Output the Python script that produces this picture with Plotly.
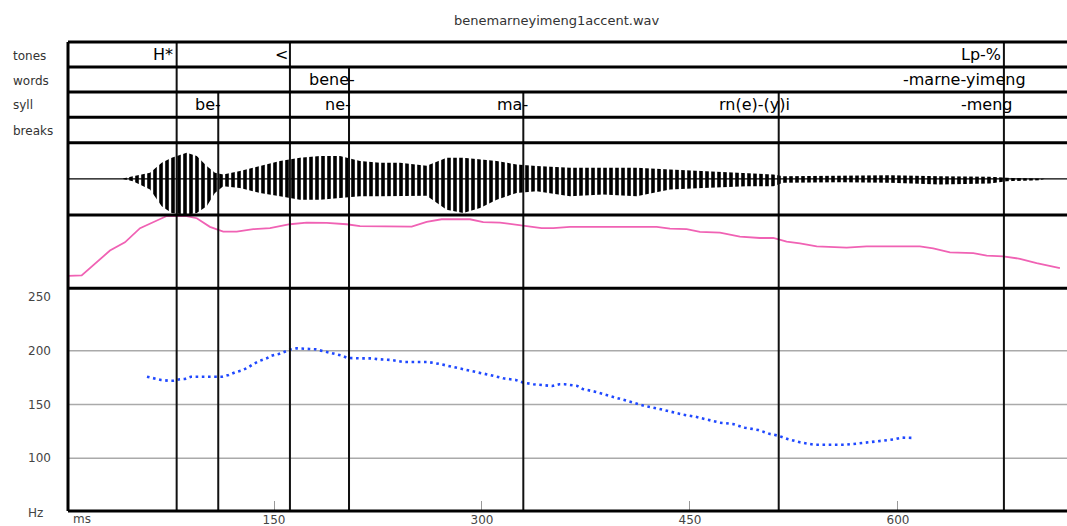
import plotly.graph_objects as go

# ---------------- data ----------------
title_text = "benemarneyimeng1accent.wav"
tier_names = ["tones", "words", "syll", "breaks"]

tones_labels = ["H*", "<", "Lp-%"]
tones_times = [79.8, 161.5, 676.4]
tones_text_end = [78.6, 161.5, 675.9]

words_labels = ["bene-", "-marne-yimeng"]
words_times = [204.1, None]
words_text_end = [209.9, 693.9]

syll_labels = ["be-", "ne-", "ma-", "rn(e)-(y)i", "-meng"]
syll_times = [109.8, 204.1, 329.8, 514.0, None]
syll_text_end = [113.0, 207.2, 334.6, 523.3, 684.4]

# waveform envelope (relative amplitude)
wave_ms = [40.2, 48.3, 60.6, 69.0, 76.2, 87.0, 94.3, 101.5, 107.4, 113.4,
           125.5, 139.9, 154.3, 168.7, 183.2, 197.6, 212.0, 226.4, 240.9, 260.1,
           274.5, 286.5, 298.6, 310.6, 325.0, 339.4, 363.5, 387.5, 411.5, 435.6,
           459.6, 490.9, 510.1, 517.3, 558.2, 594.2, 630.3, 666.3, 678.4, 702.4, 706.0]
wave_upper = [0, .075, .167, .444, .583, .722, .631, .353, .167, .119,
              .214, .353, .492, .583, .631, .631, .492, .444, .444, .36,
              .583, .583, .536, .492, .397, .353, .306, .306, .306, .258,
              .214, .167, .119, .075, .092, .103, .075, .056, .028, .01, 0]
wave_lower = [0, -.064, -.297, -.758, -.944, -.992, -.944, -.758, -.389, -.203,
              -.25, -.389, -.481, -.575, -.575, -.528, -.481, -.481, -.481, -.47,
              -.853, -.944, -.806, -.575, -.389, -.342, -.481, -.436, -.481, -.297,
              -.25, -.203, -.203, -.111, -.092, -.111, -.158, -.131, -.064, -.04, 0]

# intensity contour (dB)
int_ms = [1.6, 1.7, 11.3, 31.7, 42.5, 53.4, 72.6, 87.0, 94.3, 103.8,
          113.4, 123.1, 135.1, 147.1, 161.5, 173.6, 188.0, 202.4, 212.0, 249.3,
          260.1, 270.9, 291.3, 300.9, 313.0, 329.8, 343.0, 351.4, 363.5, 380.3,
          426.0, 435.6, 447.6, 457.2, 471.6, 486.0, 500.5, 510.1, 519.7, 529.3,
          541.4, 563.0, 577.4, 615.8, 625.4, 637.5, 654.3, 664.0, 675.9, 688.0,
          700.0, 716.8]
int_db = [30.5, 38.4, 38.8, 55.7, 61.3, 71.0, 79.3, 79.3, 77.8, 71.9,
          68.7, 68.7, 70.3, 71.0, 73.7, 74.8, 74.6, 73.7, 72.4, 72.1,
          75.3, 77.1, 77.1, 75.1, 74.8, 72.6, 71.0, 71.0, 71.9, 71.9,
          71.9, 70.7, 70.3, 68.5, 68.0, 65.3, 64.3, 64.3, 61.8, 60.6,
          58.6, 57.7, 58.6, 58.6, 57.2, 54.5, 53.9, 52.3, 51.8, 50.1,
          47.1, 43.7]

# pitch track (Hz)
pitch_ms = [58.4, 63.7, 68.5, 73.8, 77.4, 82.2, 85.8, 90.1, 95.0, 99.5,
            103.8, 108.2, 112.5, 117.3, 121.9, 126.2, 130.7, 135.1, 139.4, 144.7,
            148.3, 153.4, 157.9, 162.3, 166.4, 170.7, 175.5, 179.8, 184.6, 189.2,
            194.0, 198.1, 203.1, 207.2, 212.0, 220.4, 225.2, 234.4, 243.3, 251.7,
            260.9, 269.7, 279.3, 288.5, 296.6, 305.8, 315.4, 324.3, 329.8, 337.0,
            346.6, 350.7, 355.7, 359.8, 368.7, 372.6, 381.5, 390.3, 399.5, 408.6,
            417.5, 427.1, 436.7, 445.2, 453.6, 462.5, 471.6, 480.8, 489.6, 499.2,
            507.7, 513.7, 520.9, 529.3, 539.4, 548.1, 556.9, 561.8, 570.2, 579.8,
            589.4, 597.8, 602.6, 611.5]
pitch_hz = [175.8, 174.0, 172.8, 172.1, 172.1, 173.4, 173.7, 175.8, 175.8, 175.8,
            175.8, 175.8, 175.8, 177.4, 179.9, 181.4, 183.9, 187.6, 190.4, 192.9,
            195.4, 196.9, 199.1, 201.3, 202.2, 202.2, 201.6, 201.3, 199.7, 198.5,
            196.9, 195.7, 193.2, 192.9, 192.9, 192.9, 192.0, 191.4, 189.5, 189.5,
            189.5, 187.6, 184.6, 182.1, 179.9, 177.4, 174.3, 172.8, 170.3, 168.8,
            167.2, 167.2, 168.8, 168.8, 167.2, 164.4, 161.9, 158.8, 155.1, 151.7,
            148.6, 146.1, 143.0, 140.5, 138.7, 136.2, 133.1, 131.9, 128.4, 126.3,
            122.6, 121.0, 117.7, 114.9, 112.6, 112.6, 112.6, 112.6, 113.6, 114.9,
            116.4, 117.7, 119.2, 118.9]

x_ticks = [150, 300, 450, 600]
hz_ticks = [100, 150, 200, 250]
hz_grid = [100, 150, 200]

# ---------------- layout constants ----------------
FONT = "DejaVu Sans"
X_RANGE = [1.44, 721.9]
B_TOP, B_WORDS, B_SYLL, B_BREAKS, B_WAVE, B_INT, B_PITCH, B_BOT = (
    1.0, 0.9467, 0.8934, 0.8397, 0.7853, 0.6311, 0.4751, 0.0)

fig = go.Figure()

# waveform envelope
fig.add_trace(go.Scatter(x=wave_ms, y=wave_lower, mode="lines",
                         line=dict(width=0, color="black"),
                         xaxis="x", yaxis="y3", hoverinfo="skip"))
fig.add_trace(go.Scatter(x=wave_ms, y=wave_upper, mode="lines",
                         line=dict(width=0, color="black"),
                         fill="tonexty", fillcolor="rgba(255,255,255,0)",
                         fillpattern=dict(shape="|", size=6, solidity=0.6,
                                          fgcolor="black", fgopacity=1,
                                          bgcolor="rgba(255,255,255,0)"),
                         xaxis="x", yaxis="y3", hoverinfo="skip"))

# intensity
fig.add_trace(go.Scatter(x=int_ms, y=int_db, mode="lines",
                         line=dict(color="#f062b4", width=1.8),
                         xaxis="x", yaxis="y2"))

# pitch
fig.add_trace(go.Scatter(x=pitch_ms, y=pitch_hz, mode="lines",
                         line=dict(color="#1f48ff", width=2.6, dash="2.6px,3.6px"),
                         xaxis="x", yaxis="y"))

shapes = []
for v in hz_grid:
    shapes.append(dict(type="line", xref="paper", x0=0, x1=1, yref="y", y0=v, y1=v,
                       line=dict(color="#aaaaaa", width=1.5), layer="below"))
shapes.append(dict(type="line", xref="paper", x0=0, x1=1, yref="y3", y0=0, y1=0,
                   line=dict(color="black", width=1.3), layer="below"))
for times, top in ((tones_times, B_TOP), (words_times, B_WORDS), (syll_times, B_SYLL)):
    for t in times:
        if t is None:
            continue
        shapes.append(dict(type="line", xref="x", x0=t, x1=t, yref="paper", y0=B_BOT, y1=top,
                           line=dict(color="#111111", width=2)))
for b in (B_TOP, B_WORDS, B_SYLL, B_BREAKS, B_WAVE, B_INT, B_PITCH, B_BOT):
    shapes.append(dict(type="line", xref="paper", x0=0, x1=1, yref="paper", y0=b, y1=b,
                       line=dict(color="black", width=3)))
shapes.append(dict(type="line", xref="paper", x0=0, x1=0, yref="paper", y0=0, y1=1,
                   line=dict(color="black", width=3)))

annotations = []
rows = [(tones_labels, tones_text_end, (B_TOP + B_WORDS) / 2),
        (words_labels, words_text_end, (B_WORDS + B_SYLL) / 2),
        (syll_labels, syll_text_end, (B_SYLL + B_BREAKS) / 2)]
for labels, ends, yc in rows:
    for lab, e in zip(labels, ends):
        annotations.append(dict(text=lab, x=e, xref="x", xanchor="right",
                                y=yc, yref="paper", yanchor="middle", showarrow=False,
                                font=dict(family=FONT, size=16, color="black")))
row_label_y = [0.9701, 0.9168, 0.8657, 0.8102]
for name, yy in zip(tier_names, row_label_y):
    annotations.append(dict(text=name, x=-0.0571, xref="paper", xanchor="left",
                            y=yy, yref="paper", yanchor="middle", showarrow=False,
                            font=dict(family=FONT, size=12, color="#333333")))
annotations.append(dict(text=title_text, x=0.489, xref="paper", xanchor="center",
                        y=1.0448, yref="paper", yanchor="middle", showarrow=False,
                        font=dict(family=FONT, size=13, color="#333333")))
annotations.append(dict(text="Hz", x=-0.0325, xref="paper", xanchor="center",
                        y=-0.0043, yref="paper", yanchor="middle", showarrow=False,
                        font=dict(family=FONT, size=12, color="#444444")))
annotations.append(dict(text="ms", x=0.003, xref="paper", xanchor="left",
                        y=-0.017, yref="paper", yanchor="middle", showarrow=False,
                        font=dict(family=FONT, size=12, color="#444444")))

fig.update_layout(
    width=1067, height=526,
    margin=dict(l=68, r=0, t=42, b=15),
    paper_bgcolor="white", plot_bgcolor="white",
    showlegend=False,
    xaxis=dict(range=X_RANGE, tickvals=x_ticks, ticks="inside", ticklen=10,
               tickcolor="#999999", tickwidth=1, showgrid=False, zeroline=False,
               showline=False, tickfont=dict(family=FONT, size=12, color="#444444"),
               anchor="y"),
    yaxis=dict(domain=[B_BOT, B_PITCH], range=[51.0, 258.1], tickvals=hz_ticks,
               ticks="", showgrid=False, zeroline=False, showline=False,
               ticklabelstandoff=16,
               tickfont=dict(family=FONT, size=12, color="#444444")),
    yaxis2=dict(domain=[B_PITCH, B_INT], range=[30, 80], visible=False, anchor="x"),
    yaxis3=dict(domain=[B_INT, B_WAVE], range=[-1, 1], visible=False, anchor="x"),
    shapes=shapes, annotations=annotations,
)

fig.write_html("out.html")
